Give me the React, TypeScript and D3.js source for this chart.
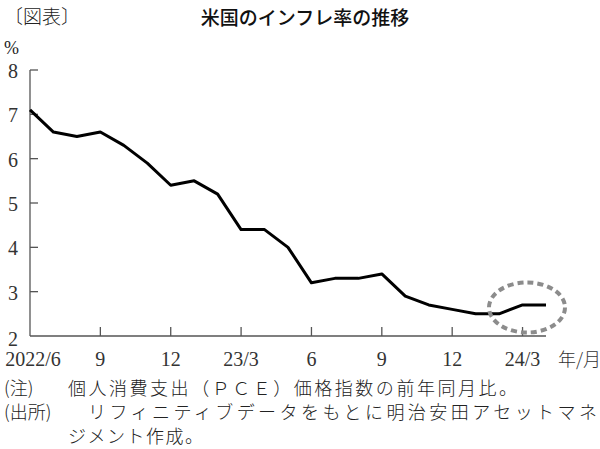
import React from "react";
import * as d3 from "d3";

const months: string[] = [
  "2022/6","2022/7","2022/8","2022/9","2022/10","2022/11","2022/12",
  "2023/1","2023/2","2023/3","2023/4","2023/5","2023/6","2023/7","2023/8","2023/9","2023/10","2023/11","2023/12",
  "2024/1","2024/2","2024/3","2024/4",
];
const pce: number[] = [7.1,6.6,6.5,6.6,6.3,5.9,5.4,5.5,5.2,4.4,4.4,4.0,3.2,3.3,3.3,3.4,2.9,2.7,2.6,2.5,2.5,2.7,2.7];
const xTickIndex: number[] = [0,3,6,9,12,15,18,21];
const xTickLabels: string[] = ["2022/6","9","12","23/3","6","9","12","24/3"];
const yTicks: number[] = [2,3,4,5,6,7,8];
const title = "米国のインフレ率の推移";
const notes: string[] = [
  "個人消費支出（ＰＣＥ）価格指数の前年同月比。",
  "リフィニティブデータをもとに明治安田アセットマネ",
  "ジメント作成。",
];

export default function App() {
  const W = 600, H = 449;
  const x = d3.scaleLinear().domain([0, months.length - 1]).range([30, 546]);
  const y = d3.scaleLinear().domain([2, 8]).range([336, 70]);
  const line = d3.line<number>().x((_, i) => x(i)).y(d => y(d));
  const serif = "'Liberation Serif', 'DejaVu Serif', serif";
  const jp = "'Noto Sans CJK JP', sans-serif";
  const last = months.length - 1;
  return (
    <svg width={W} height={H} style={{ position: "absolute", left: 0, top: 0, background: "#fff" }}>
      <text x={4} y={24} fontFamily={jp} fontSize={19} fill="#222" fontWeight={300}>〔図表〕</text>
      <text x={305} y={25} fontFamily={jp} fontSize={19} fill="#111" textAnchor="middle" fontWeight={500}>{title}</text>
      <text x={4} y={54} fontFamily={serif} fontSize={18} fill="#222">%</text>
      <line x1={30} x2={30} y1={y(8)} y2={y(2)} stroke="#555" strokeWidth={1.3} />
      <line x1={30} x2={x(last)} y1={y(2)} y2={y(2)} stroke="#555" strokeWidth={1.3} />
      {yTicks.map(t => (
        <g key={t}>
          {t > 2 && <line x1={30} x2={38} y1={y(t)} y2={y(t)} stroke="#555" strokeWidth={1.3} />}
          <text x={13} y={t === 2 ? y(t) + 10 : y(t) + 8} fontFamily={serif} fontSize={20} textAnchor="middle" fill="#333">{t}</text>
        </g>
      ))}
      {xTickIndex.map((idx, k) => (
        <g key={idx}>
          {idx > 0 && <line x1={x(idx)} x2={x(idx)} y1={y(2)} y2={y(2) - 9} stroke="#555" strokeWidth={1.3} />}
          <text x={idx === 0 ? 33 : x(idx)} y={y(2) + 30} fontFamily={serif} fontSize={20} textAnchor="middle" fill="#333">{xTickLabels[k]}</text>
        </g>
      ))}
      <text x={558} y={y(2) + 30} fontFamily={jp} fontSize={18} fill="#333" fontWeight={300}>年/月</text>
      <path d={line(pce) || ""} fill="none" stroke="#000" strokeWidth={3} strokeLinejoin="round" />
      <ellipse cx={527} cy={307.5} rx={38} ry={25} fill="none" stroke="#8c8c8c" strokeWidth={4} strokeDasharray="6 4" />
      <text x={4} y={395} fontFamily={jp} fontSize={18} fill="#222" fontWeight={300}>(注)</text>
      <text x={68} y={395} fontFamily={jp} fontSize={18} fill="#222" fontWeight={300} textLength={449} lengthAdjust="spacing">{notes[0]}</text>
      <text x={4} y={419} fontFamily={jp} fontSize={18} fill="#222" fontWeight={300}>(出所)</text>
      <text x={88} y={419} fontFamily={jp} fontSize={18} fill="#222" fontWeight={300} textLength={509} lengthAdjust="spacing">{notes[1]}</text>
      <text x={68} y={443} fontFamily={jp} fontSize={18} fill="#222" fontWeight={300} letterSpacing={1.5}>{notes[2]}</text>
    </svg>
  );
}
